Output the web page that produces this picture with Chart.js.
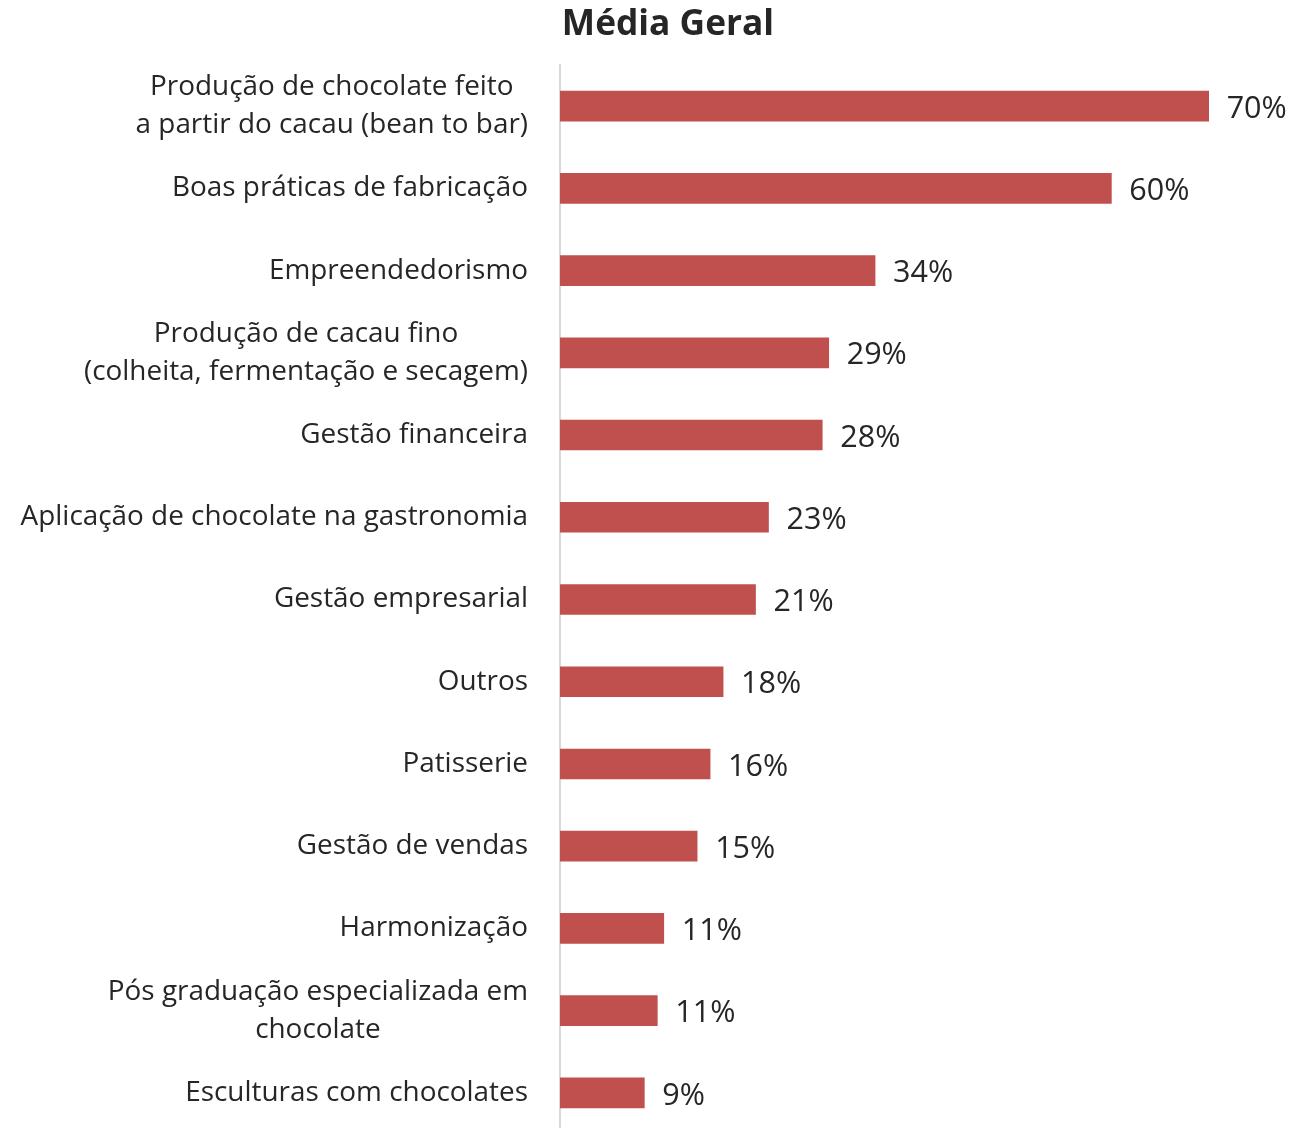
<!DOCTYPE html>
<html>
<head>
<meta charset="utf-8">
<script src="https://cdn.jsdelivr.net/npm/chart.js@4.4.1/dist/chart.umd.min.js"></script>
<style>
    html, body { margin: 0; padding: 0; background: #fff; overflow: hidden; }
    #wrap { position: relative; width: 1294px; height: 1134px; }
</style>
</head>
<body>
<div id="wrap"><canvas id="chart"></canvas></div>
<script>
/* ---------- DATA ---------- */
const title = "Média Geral";

const categories = [
    ["Produção de chocolate feito", "a partir do cacau (bean to bar)"],
    "Boas práticas de fabricação",
    "Empreendedorismo",
    ["Produção de cacau fino", "(colheita, fermentação e secagem)"],
    "Gestão financeira",
    "Aplicação de chocolate na gastronomia",
    "Gestão empresarial",
    "Outros",
    "Patisserie",
    "Gestão de vendas",
    "Harmonização",
    ["Pós graduação especializada em", "chocolate"],
    "Esculturas com chocolates"
];

const values = [70, 59.5, 34.0, 29.0, 28.3, 22.5, 21.1, 17.6, 16.2, 14.8, 11.2, 10.5, 9.1];

/* ---------- STYLE ---------- */
const fontFamily = "'Open Sans', 'Noto Sans', sans-serif";
const textColor = "#262626";
const barColor = "#C0504D";
const labelRight = 528;
const lineHeight = 38;

/* ---------- LABELS PLUGIN ---------- */
const labelPlugin = {
    id: "drawLabels",
    afterDatasetsDraw(chart) {
        const ctx = chart.ctx;
        const meta = chart.getDatasetMeta(0);
        const yScale = chart.scales.y;

        ctx.save();
        ctx.fillStyle = textColor;
        ctx.textBaseline = "middle";

        // value labels
        ctx.font = `30.5px ${fontFamily}`;
        ctx.textAlign = "left";
        meta.data.forEach((bar, i) => {
            ctx.fillText(Math.round(values[i]) + "%", bar.x + 18, bar.y + 3);
        });

        // category labels (block right aligned, lines centered)
        ctx.font = `27.9px ${fontFamily}`;
        ctx.textAlign = "center";
        categories.forEach((c, i) => {
            const lines = Array.isArray(c) ? c : [c];
            const w = Math.max(...lines.map(l => ctx.measureText(l).width));
            const cx = labelRight - w / 2;
            const y = yScale.getPixelForTick(i);
            lines.forEach((l, j) => {
                ctx.fillText(l, cx, y + (j - (lines.length - 1) / 2) * lineHeight);
            });
        });

        // title
        ctx.font = `bold 35.3px ${fontFamily}`;
        ctx.fillText(title, 668, 25);

        ctx.restore();
    }
};

/* ---------- CHART ---------- */
new Chart(document.getElementById("chart"), {
    type: "bar",
    data: {
        labels: categories,
        datasets: [{
            data: values,
            backgroundColor: barColor,
            barThickness: 30
        }]
    },
    options: {
        indexAxis: "y",
        responsive: true,
        maintainAspectRatio: false,
        animation: false,
        layout: { padding: { top: 65, right: 39, bottom: 0, left: 0 } },
        plugins: {
            legend: { display: false },
            tooltip: { enabled: false }
        },
        scales: {
            x: { display: false, min: 0, max: 75 },
            y: {
                grid: { display: false, drawTicks: false },
                border: { display: true, color: "#d9d9d9", width: 2 },
                ticks: { display: false },
                afterFit(scale) { scale.width = 560; }
            }
        }
    },
    plugins: [labelPlugin]
});
</script>
</body>
</html>
